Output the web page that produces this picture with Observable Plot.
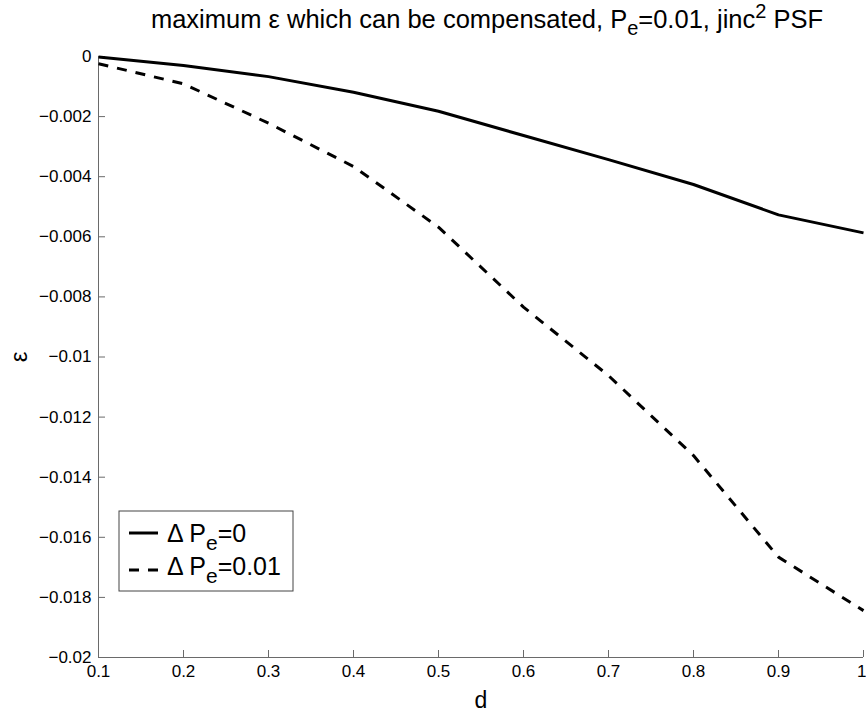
<!DOCTYPE html>
<html>
<head>
<meta charset="utf-8">
<script src="https://cdn.jsdelivr.net/npm/d3@7"></script>
<script src="https://cdn.jsdelivr.net/npm/@observablehq/plot@0.6"></script>
<style>
  body { margin: 0; background: #fff; }
  #chart { width: 866px; height: 717px; }
</style>
</head>
<body>
<div id="chart"></div>
<script>
// Sampled spacing d
const dValues = [0.1, 0.2, 0.3, 0.4, 0.5, 0.6, 0.7, 0.8, 0.9, 1.0];
// Maximum compensable epsilon for the two error budgets
const epsDeltaPe0 = [-0.00002, -0.00030, -0.00067, -0.00119, -0.00182, -0.00263, -0.00343, -0.00426, -0.00527, -0.00587];
const epsDeltaPe001 = [-0.00024, -0.00091, -0.00222, -0.00366, -0.00568, -0.00834, -0.01062, -0.01328, -0.01666, -0.01844];

const xTicks = [0.1, 0.2, 0.3, 0.4, 0.5, 0.6, 0.7, 0.8, 0.9, 1];
const xTickLabels = ["0.1", "0.2", "0.3", "0.4", "0.5", "0.6", "0.7", "0.8", "0.9", "1"];
const yTicks = [0, -0.002, -0.004, -0.006, -0.008, -0.01, -0.012, -0.014, -0.016, -0.018, -0.02];
const yTickLabels = ["0", "\u22120.002", "\u22120.004", "\u22120.006", "\u22120.008", "\u22120.01",
                     "\u22120.012", "\u22120.014", "\u22120.016", "\u22120.018", "\u22120.02"];

// Legend entries: main text, subscript, trailing text
const seriesKeys = ["dp0", "dp001"];
const seriesLabels = [
  {lead: "\u0394 P", sub: "e", tail: "=0"},
  {lead: "\u0394 P", sub: "e", tail: "=0.01"}
];
const seriesDash = [null, "10,9"];

const rows = [];
dValues.forEach((d, i) => {
  rows.push({d, eps: epsDeltaPe0[i], series: seriesKeys[0]});
  rows.push({d, eps: epsDeltaPe001[i], series: seriesKeys[1]});
});

const font = "'Liberation Sans', Arial, Helvetica, sans-serif";
const axisColor = "#6a6a6a";
const lastX = xTicks[xTicks.length - 1];

const chart = Plot.plot({
  width: 866,
  height: 717,
  marginLeft: 98,
  marginRight: 3,
  marginTop: 56,
  marginBottom: 60,
  style: {fontFamily: font, fontSize: "17px", background: "#fff", color: "#000"},
  x: {domain: [0.1, 1], label: null},
  y: {domain: [-0.02, 0], label: null},
  marks: [
    Plot.ruleX([0.1], {stroke: axisColor, strokeWidth: 1}),
    Plot.ruleY([-0.02], {stroke: axisColor, strokeWidth: 1}),
    Plot.axisX({
      ticks: xTicks,
      tickFormat: () => "",
      tickSize: -7,
      stroke: axisColor,
      label: null
    }),
    // tick labels; the last one is kept inside the right edge
    Plot.axisX({
      ticks: xTicks.slice(0, -1),
      tickFormat: (v, i) => xTickLabels[i],
      tickSize: 0,
      tickPadding: 7,
      fill: "#000",
      label: null
    }),
    Plot.axisX({
      ticks: [lastX],
      tickFormat: () => xTickLabels[xTickLabels.length - 1],
      tickSize: 0,
      tickPadding: 7,
      textAnchor: "end",
      dx: 3,
      fill: "#000",
      label: null
    }),
    Plot.axisY({
      ticks: yTicks,
      tickFormat: (v, i) => yTickLabels[i],
      tickSize: -7,
      tickPadding: 14,
      stroke: axisColor,
      fill: "#000",
      label: null
    }),
    ...seriesKeys.map((key, k) =>
      Plot.line(rows.filter(r => r.series === key), {
        x: "d",
        y: "eps",
        stroke: "#000",
        strokeWidth: 3,
        strokeDasharray: seriesDash[k],
        strokeLinejoin: "round",
        strokeLinecap: "butt"
      })
    )
  ]
});

document.getElementById("chart").appendChild(chart);

const svg = d3.select(chart);

// Title with subscript and superscript
const title = svg.append("text")
  .attr("x", 487).attr("y", 28)
  .attr("text-anchor", "middle")
  .style("font-family", font).style("font-size", "25.5px").attr("fill", "#000");
title.append("tspan").text("maximum \u03b5 which can be compensated, P");
title.append("tspan").attr("dy", 7).style("font-size", "20px").text("e");
title.append("tspan").attr("dy", -7).text("=0.01, jinc");
title.append("tspan").attr("dy", -10).style("font-size", "20px").text("2");
title.append("tspan").attr("dy", 10).text(" PSF");

// Axis labels
svg.append("text")
  .attr("x", 481).attr("y", 708)
  .attr("text-anchor", "middle")
  .style("font-family", font).style("font-size", "23px")
  .text("d");
svg.append("text")
  .attr("transform", "translate(27,357) rotate(-90)")
  .attr("text-anchor", "middle")
  .style("font-family", font).style("font-size", "24px")
  .text("\u03b5");

// Legend
const legend = svg.append("g").attr("transform", "translate(119,511)");
legend.append("rect")
  .attr("width", 174).attr("height", 80)
  .attr("fill", "#fff").attr("stroke", "#444").attr("stroke-width", 1);
const rowY = [22, 59];
const rowBase = [31, 64];
seriesLabels.forEach((lab, k) => {
  legend.append("line")
    .attr("x1", 10).attr("x2", 39)
    .attr("y1", rowY[k]).attr("y2", rowY[k])
    .attr("stroke", "#000").attr("stroke-width", 3)
    .attr("stroke-dasharray", seriesDash[k]);
  const t = legend.append("text")
    .attr("x", 48).attr("y", rowBase[k])
    .attr("text-anchor", "start")
    .style("font-family", font).style("font-size", "25px");
  t.append("tspan").text(lab.lead);
  t.append("tspan").attr("dy", 8).style("font-size", "21px").text(lab.sub);
  t.append("tspan").attr("dy", -8).text(lab.tail);
});
</script>
</body>
</html>
